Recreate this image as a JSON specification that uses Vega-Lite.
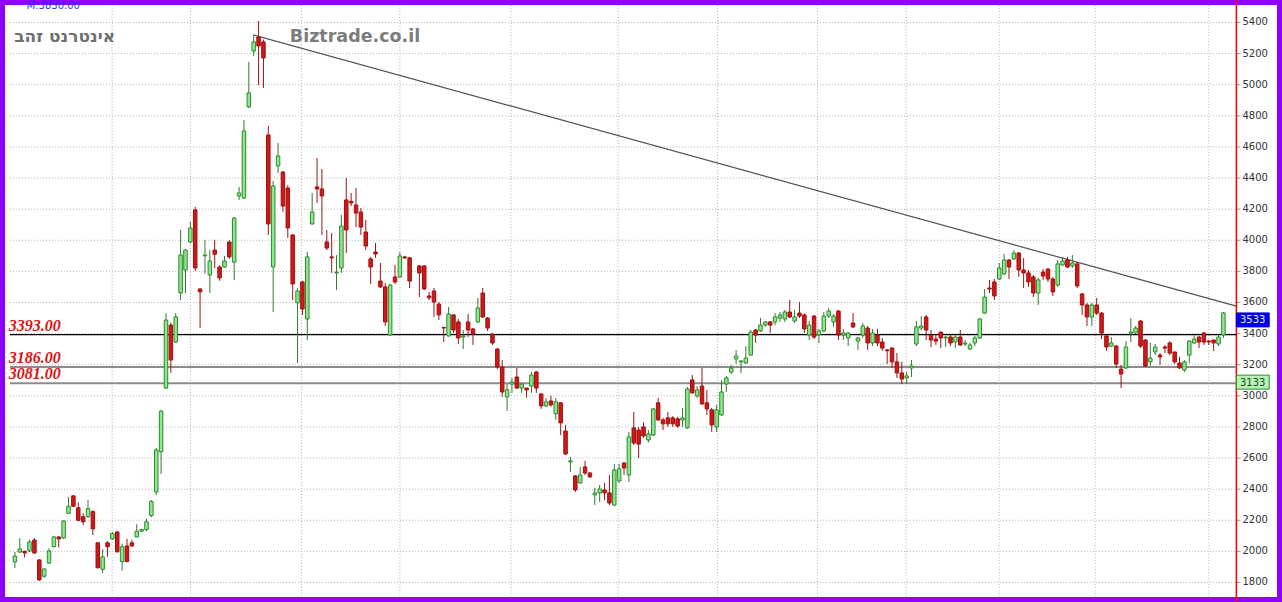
{
  "$schema": "https://vega.github.io/schema/vega-lite/v6.json",
  "width": 1282,
  "height": 602,
  "autosize": {"type": "none"},
  "padding": 0,
  "background": "#8f00ff",
  "config": {
    "view": {"stroke": "#8f00ff", "strokeWidth": 10, "fill": "#ffffff"},
    "font": "DejaVu Sans"
  },
  "datasets": {
    "candles": [
      {"t":0,"o":1932,"h":1996,"l":1893,"c":1970},
      {"t":1,"o":1996,"h":2086,"l":1990,"c":2016},
      {"t":2,"o":2000,"h":2005,"l":1960,"c":1990},
      {"t":3,"o":2003,"h":2075,"l":1995,"c":2061},
      {"t":4,"o":2073,"h":2085,"l":1985,"c":1990},
      {"t":5,"o":1945,"h":1950,"l":1810,"c":1817},
      {"t":6,"o":1840,"h":1890,"l":1830,"c":1887},
      {"t":7,"o":1925,"h":2020,"l":1920,"c":2003},
      {"t":8,"o":2030,"h":2100,"l":2025,"c":2093},
      {"t":9,"o":2093,"h":2095,"l":2025,"c":2080},
      {"t":10,"o":2086,"h":2200,"l":2080,"c":2195},
      {"t":11,"o":2245,"h":2350,"l":2240,"c":2290},
      {"t":12,"o":2357,"h":2360,"l":2285,"c":2290},
      {"t":13,"o":2280,"h":2315,"l":2195,"c":2200},
      {"t":14,"o":2223,"h":2245,"l":2170,"c":2190},
      {"t":15,"o":2223,"h":2330,"l":2215,"c":2275},
      {"t":16,"o":2255,"h":2265,"l":2105,"c":2145},
      {"t":17,"o":2055,"h":2060,"l":1890,"c":1895},
      {"t":18,"o":1885,"h":2015,"l":1860,"c":1965},
      {"t":19,"o":2055,"h":2065,"l":1965,"c":2030},
      {"t":20,"o":2080,"h":2125,"l":2075,"c":2115},
      {"t":21,"o":2125,"h":2130,"l":1995,"c":1997},
      {"t":22,"o":1935,"h":2050,"l":1875,"c":2030},
      {"t":23,"o":2035,"h":2080,"l":1930,"c":1935},
      {"t":24,"o":2055,"h":2075,"l":2030,"c":2035},
      {"t":25,"o":2093,"h":2175,"l":2090,"c":2130},
      {"t":26,"o":2130,"h":2145,"l":2125,"c":2140},
      {"t":27,"o":2140,"h":2210,"l":2130,"c":2190},
      {"t":28,"o":2230,"h":2330,"l":2220,"c":2320},
      {"t":29,"o":2382,"h":2665,"l":2363,"c":2652},
      {"t":30,"o":2640,"h":2910,"l":2497,"c":2902},
      {"t":31,"o":3050,"h":3532,"l":3045,"c":3487},
      {"t":32,"o":3455,"h":3470,"l":3147,"c":3230},
      {"t":33,"o":3346,"h":3532,"l":3340,"c":3507},
      {"t":34,"o":3661,"h":4066,"l":3616,"c":3905},
      {"t":35,"o":3809,"h":3945,"l":3661,"c":3937},
      {"t":36,"o":3989,"h":4118,"l":3980,"c":4079},
      {"t":37,"o":4195,"h":4215,"l":3802,"c":3822},
      {"t":38,"o":3687,"h":3690,"l":3436,"c":3668},
      {"t":39,"o":3900,"h":4003,"l":3784,"c":3905},
      {"t":40,"o":3777,"h":3937,"l":3661,"c":3867},
      {"t":41,"o":3937,"h":4003,"l":3822,"c":3910},
      {"t":42,"o":3828,"h":3840,"l":3740,"c":3758},
      {"t":43,"o":3828,"h":3900,"l":3822,"c":3867},
      {"t":44,"o":3989,"h":4000,"l":3880,"c":3893},
      {"t":45,"o":3860,"h":4150,"l":3745,"c":4143},
      {"t":46,"o":4285,"h":4343,"l":4259,"c":4304},
      {"t":47,"o":4272,"h":4773,"l":4265,"c":4703},
      {"t":48,"o":4857,"h":5146,"l":4850,"c":4947},
      {"t":49,"o":5217,"h":5320,"l":5185,"c":5275},
      {"t":50,"o":5307,"h":5410,"l":4998,"c":5249},
      {"t":51,"o":5275,"h":5290,"l":4979,"c":5172},
      {"t":52,"o":4677,"h":4735,"l":4034,"c":4105},
      {"t":53,"o":3828,"h":4381,"l":3539,"c":4349},
      {"t":54,"o":4478,"h":4625,"l":4433,"c":4542},
      {"t":55,"o":4439,"h":4445,"l":4182,"c":4220},
      {"t":56,"o":4336,"h":4355,"l":4015,"c":4079},
      {"t":57,"o":4034,"h":4040,"l":3616,"c":3719},
      {"t":58,"o":3597,"h":3690,"l":3211,"c":3674},
      {"t":59,"o":3732,"h":3740,"l":3520,"c":3558},
      {"t":60,"o":3494,"h":3925,"l":3359,"c":3893},
      {"t":61,"o":4105,"h":4304,"l":4100,"c":4182},
      {"t":62,"o":4343,"h":4529,"l":4240,"c":4330},
      {"t":63,"o":4330,"h":4458,"l":4034,"c":4285},
      {"t":64,"o":3989,"h":4066,"l":3937,"c":3950},
      {"t":65,"o":3893,"h":4047,"l":3790,"c":3887},
      {"t":66,"o":3790,"h":3905,"l":3680,"c":3795},
      {"t":67,"o":3822,"h":4163,"l":3790,"c":4092},
      {"t":68,"o":4259,"h":4400,"l":3918,"c":4066},
      {"t":69,"o":4250,"h":4304,"l":4220,"c":4240},
      {"t":70,"o":4227,"h":4336,"l":4085,"c":4175},
      {"t":71,"o":4182,"h":4208,"l":4034,"c":4085},
      {"t":72,"o":4053,"h":4130,"l":3937,"c":3963},
      {"t":73,"o":3880,"h":3893,"l":3719,"c":3828},
      {"t":74,"o":3925,"h":3982,"l":3887,"c":3912},
      {"t":75,"o":3738,"h":3854,"l":3693,"c":3700},
      {"t":76,"o":3700,"h":3725,"l":3449,"c":3475},
      {"t":77,"o":3391,"h":3720,"l":3385,"c":3712},
      {"t":78,"o":3764,"h":3841,"l":3719,"c":3732},
      {"t":79,"o":3764,"h":3925,"l":3758,"c":3899},
      {"t":80,"o":3893,"h":3900,"l":3880,"c":3887},
      {"t":81,"o":3887,"h":3893,"l":3693,"c":3738},
      {"t":83,"o":3835,"h":3840,"l":3635,"c":3790},
      {"t":84,"o":3835,"h":3841,"l":3680,"c":3687},
      {"t":85,"o":3642,"h":3668,"l":3616,"c":3630},
      {"t":86,"o":3674,"h":3693,"l":3507,"c":3603},
      {"t":87,"o":3590,"h":3603,"l":3487,"c":3520},
      {"t":88,"o":3440,"h":3443,"l":3346,"c":3436},
      {"t":89,"o":3385,"h":3571,"l":3380,"c":3526},
      {"t":90,"o":3520,"h":3526,"l":3404,"c":3423},
      {"t":91,"o":3475,"h":3494,"l":3333,"c":3372},
      {"t":92,"o":3378,"h":3423,"l":3301,"c":3385},
      {"t":93,"o":3475,"h":3526,"l":3378,"c":3423},
      {"t":94,"o":3430,"h":3436,"l":3327,"c":3397},
      {"t":95,"o":3475,"h":3629,"l":3468,"c":3565},
      {"t":96,"o":3661,"h":3693,"l":3500,"c":3507},
      {"t":97,"o":3500,"h":3507,"l":3417,"c":3436},
      {"t":98,"o":3397,"h":3404,"l":3327,"c":3340},
      {"t":99,"o":3301,"h":3307,"l":3172,"c":3185},
      {"t":100,"o":3185,"h":3230,"l":2993,"c":3025},
      {"t":101,"o":2993,"h":3076,"l":2903,"c":3038},
      {"t":102,"o":3076,"h":3115,"l":3019,"c":3089},
      {"t":103,"o":3121,"h":3179,"l":3044,"c":3050},
      {"t":104,"o":3050,"h":3083,"l":3019,"c":3076},
      {"t":105,"o":3050,"h":3052,"l":2987,"c":3038},
      {"t":106,"o":3063,"h":3153,"l":3019,"c":3134},
      {"t":107,"o":3153,"h":3160,"l":3019,"c":3050},
      {"t":108,"o":3012,"h":3015,"l":2916,"c":2935},
      {"t":109,"o":2935,"h":2985,"l":2930,"c":2961},
      {"t":110,"o":2967,"h":3000,"l":2930,"c":2942},
      {"t":111,"o":2884,"h":2987,"l":2845,"c":2961},
      {"t":112,"o":2955,"h":2961,"l":2748,"c":2826},
      {"t":113,"o":2774,"h":2813,"l":2620,"c":2626},
      {"t":114,"o":2575,"h":2607,"l":2511,"c":2582},
      {"t":115,"o":2485,"h":2491,"l":2382,"c":2395},
      {"t":116,"o":2440,"h":2543,"l":2435,"c":2491},
      {"t":117,"o":2543,"h":2582,"l":2491,"c":2504},
      {"t":118,"o":2504,"h":2511,"l":2472,"c":2479},
      {"t":119,"o":2363,"h":2408,"l":2298,"c":2376},
      {"t":120,"o":2376,"h":2427,"l":2318,"c":2401},
      {"t":121,"o":2395,"h":2440,"l":2330,"c":2376},
      {"t":122,"o":2376,"h":2491,"l":2298,"c":2311},
      {"t":123,"o":2298,"h":2562,"l":2292,"c":2523},
      {"t":124,"o":2453,"h":2562,"l":2440,"c":2530},
      {"t":125,"o":2568,"h":2575,"l":2491,"c":2536},
      {"t":126,"o":2491,"h":2768,"l":2446,"c":2736},
      {"t":127,"o":2794,"h":2897,"l":2684,"c":2697},
      {"t":128,"o":2780,"h":2800,"l":2600,"c":2690},
      {"t":129,"o":2800,"h":2830,"l":2730,"c":2742},
      {"t":130,"o":2716,"h":2780,"l":2700,"c":2755},
      {"t":131,"o":2748,"h":2922,"l":2740,"c":2916},
      {"t":132,"o":2955,"h":2987,"l":2839,"c":2845},
      {"t":133,"o":2845,"h":2858,"l":2780,"c":2820},
      {"t":134,"o":2858,"h":2897,"l":2800,"c":2820},
      {"t":135,"o":2858,"h":2870,"l":2800,"c":2820},
      {"t":136,"o":2852,"h":2865,"l":2794,"c":2806},
      {"t":137,"o":2845,"h":2922,"l":2800,"c":2858},
      {"t":138,"o":2794,"h":3057,"l":2787,"c":3044},
      {"t":139,"o":3102,"h":3134,"l":3012,"c":3019},
      {"t":140,"o":2999,"h":3063,"l":2987,"c":3038},
      {"t":141,"o":3063,"h":3179,"l":2942,"c":2948},
      {"t":142,"o":2955,"h":3038,"l":2877,"c":2916},
      {"t":143,"o":2910,"h":2922,"l":2768,"c":2813},
      {"t":144,"o":2800,"h":2942,"l":2768,"c":2910},
      {"t":145,"o":2877,"h":3102,"l":2871,"c":3025},
      {"t":146,"o":3076,"h":3128,"l":3025,"c":3115},
      {"t":147,"o":3153,"h":3198,"l":3140,"c":3179},
      {"t":148,"o":3237,"h":3294,"l":3205,"c":3256},
      {"t":149,"o":3218,"h":3230,"l":3147,"c":3224},
      {"t":150,"o":3211,"h":3320,"l":3205,"c":3243},
      {"t":151,"o":3262,"h":3423,"l":3256,"c":3410},
      {"t":152,"o":3423,"h":3430,"l":3340,"c":3391},
      {"t":153,"o":3417,"h":3500,"l":3410,"c":3455},
      {"t":154,"o":3455,"h":3481,"l":3443,"c":3475},
      {"t":155,"o":3475,"h":3481,"l":3404,"c":3455},
      {"t":156,"o":3475,"h":3532,"l":3455,"c":3507},
      {"t":157,"o":3500,"h":3539,"l":3475,"c":3520},
      {"t":158,"o":3494,"h":3552,"l":3475,"c":3539},
      {"t":159,"o":3539,"h":3616,"l":3500,"c":3507},
      {"t":160,"o":3481,"h":3552,"l":3468,"c":3507},
      {"t":161,"o":3532,"h":3603,"l":3500,"c":3513},
      {"t":162,"o":3520,"h":3530,"l":3404,"c":3430},
      {"t":163,"o":3391,"h":3481,"l":3359,"c":3455},
      {"t":164,"o":3513,"h":3520,"l":3365,"c":3378},
      {"t":165,"o":3391,"h":3430,"l":3340,"c":3417},
      {"t":166,"o":3417,"h":3539,"l":3410,"c":3513},
      {"t":167,"o":3513,"h":3565,"l":3500,"c":3545},
      {"t":168,"o":3475,"h":3526,"l":3443,"c":3513},
      {"t":169,"o":3545,"h":3552,"l":3359,"c":3391},
      {"t":170,"o":3391,"h":3430,"l":3359,"c":3404},
      {"t":171,"o":3372,"h":3410,"l":3320,"c":3404},
      {"t":172,"o":3468,"h":3532,"l":3436,"c":3443},
      {"t":173,"o":3352,"h":3378,"l":3295,"c":3372},
      {"t":174,"o":3391,"h":3468,"l":3372,"c":3449},
      {"t":175,"o":3436,"h":3449,"l":3295,"c":3340},
      {"t":176,"o":3340,"h":3430,"l":3320,"c":3404},
      {"t":177,"o":3391,"h":3430,"l":3320,"c":3340},
      {"t":178,"o":3346,"h":3372,"l":3288,"c":3307},
      {"t":179,"o":3295,"h":3301,"l":3205,"c":3290},
      {"t":180,"o":3307,"h":3314,"l":3179,"c":3218},
      {"t":181,"o":3218,"h":3275,"l":3115,"c":3147},
      {"t":182,"o":3147,"h":3218,"l":3076,"c":3108},
      {"t":183,"o":3115,"h":3153,"l":3076,"c":3128},
      {"t":184,"o":3179,"h":3230,"l":3121,"c":3192},
      {"t":185,"o":3333,"h":3481,"l":3320,"c":3443},
      {"t":186,"o":3436,"h":3513,"l":3423,"c":3449},
      {"t":187,"o":3507,"h":3520,"l":3359,"c":3423},
      {"t":188,"o":3391,"h":3423,"l":3314,"c":3359},
      {"t":189,"o":3365,"h":3391,"l":3327,"c":3352},
      {"t":190,"o":3410,"h":3410,"l":3307,"c":3372},
      {"t":191,"o":3372,"h":3385,"l":3314,"c":3378},
      {"t":192,"o":3378,"h":3391,"l":3320,"c":3340},
      {"t":193,"o":3346,"h":3391,"l":3307,"c":3378},
      {"t":194,"o":3378,"h":3423,"l":3320,"c":3327},
      {"t":195,"o":3333,"h":3359,"l":3320,"c":3340},
      {"t":196,"o":3301,"h":3340,"l":3295,"c":3327},
      {"t":197,"o":3340,"h":3385,"l":3320,"c":3372},
      {"t":198,"o":3372,"h":3500,"l":3365,"c":3494},
      {"t":199,"o":3532,"h":3687,"l":3526,"c":3635},
      {"t":200,"o":3693,"h":3745,"l":3661,"c":3687},
      {"t":201,"o":3732,"h":3751,"l":3616,"c":3642},
      {"t":202,"o":3751,"h":3854,"l":3745,"c":3822},
      {"t":203,"o":3783,"h":3912,"l":3777,"c":3873},
      {"t":204,"o":3873,"h":3880,"l":3751,"c":3828},
      {"t":205,"o":3880,"h":3937,"l":3873,"c":3918},
      {"t":206,"o":3918,"h":3925,"l":3764,"c":3809},
      {"t":207,"o":3809,"h":3886,"l":3693,"c":3790},
      {"t":208,"o":3790,"h":3809,"l":3700,"c":3732},
      {"t":209,"o":3764,"h":3777,"l":3635,"c":3661},
      {"t":210,"o":3661,"h":3758,"l":3584,"c":3745},
      {"t":211,"o":3796,"h":3815,"l":3745,"c":3770},
      {"t":212,"o":3815,"h":3822,"l":3732,"c":3751},
      {"t":213,"o":3751,"h":3764,"l":3642,"c":3668},
      {"t":214,"o":3712,"h":3873,"l":3700,"c":3848},
      {"t":215,"o":3841,"h":3893,"l":3835,"c":3867},
      {"t":216,"o":3873,"h":3893,"l":3822,"c":3828},
      {"t":217,"o":3835,"h":3905,"l":3822,"c":3854},
      {"t":218,"o":3848,"h":3860,"l":3693,"c":3706},
      {"t":219,"o":3655,"h":3661,"l":3520,"c":3584},
      {"t":220,"o":3584,"h":3597,"l":3449,"c":3507},
      {"t":221,"o":3507,"h":3597,"l":3449,"c":3584},
      {"t":222,"o":3584,"h":3629,"l":3520,"c":3532},
      {"t":223,"o":3532,"h":3539,"l":3365,"c":3404},
      {"t":224,"o":3385,"h":3391,"l":3288,"c":3314},
      {"t":225,"o":3320,"h":3378,"l":3314,"c":3340},
      {"t":226,"o":3320,"h":3327,"l":3179,"c":3205},
      {"t":227,"o":3172,"h":3198,"l":3050,"c":3140},
      {"t":228,"o":3179,"h":3352,"l":3172,"c":3314},
      {"t":229,"o":3404,"h":3500,"l":3346,"c":3410},
      {"t":230,"o":3404,"h":3449,"l":3398,"c":3436},
      {"t":231,"o":3481,"h":3487,"l":3307,"c":3320},
      {"t":232,"o":3359,"h":3365,"l":3185,"c":3192},
      {"t":233,"o":3218,"h":3340,"l":3192,"c":3243},
      {"t":234,"o":3282,"h":3333,"l":3262,"c":3314},
      {"t":235,"o":3262,"h":3275,"l":3198,"c":3250},
      {"t":236,"o":3314,"h":3327,"l":3275,"c":3307},
      {"t":237,"o":3340,"h":3352,"l":3262,"c":3275},
      {"t":238,"o":3282,"h":3282,"l":3205,"c":3218},
      {"t":239,"o":3211,"h":3250,"l":3175,"c":3179},
      {"t":240,"o":3166,"h":3230,"l":3153,"c":3218},
      {"t":241,"o":3262,"h":3359,"l":3211,"c":3352},
      {"t":242,"o":3340,"h":3391,"l":3333,"c":3365},
      {"t":243,"o":3378,"h":3385,"l":3307,"c":3346},
      {"t":244,"o":3404,"h":3410,"l":3327,"c":3346},
      {"t":245,"o":3352,"h":3359,"l":3327,"c":3346},
      {"t":246,"o":3359,"h":3359,"l":3288,"c":3340},
      {"t":247,"o":3333,"h":3391,"l":3320,"c":3378},
      {"t":248,"o":3391,"h":3539,"l":3372,"c":3533}
    ],
    "hgrid": [
      {"p":1800},{"p":2000},{"p":2200},{"p":2400},{"p":2600},{"p":2800},{"p":3000},{"p":3200},{"p":3400},{"p":3600},
      {"p":3800},{"p":4000},{"p":4200},{"p":4400},{"p":4600},{"p":4800},{"p":5000},{"p":5200},{"p":5400}
    ],
    "vgrid": [
      {"t":19.95},{"t":36.0},{"t":58.8},{"t":79.0},{"t":101.8},{"t":123.8},{"t":144.2},{"t":164.7},{"t":182.9},{"t":202.0},{"t":221.7},{"t":245.0}
    ],
    "levels": [
      {"p":3393,"label":"3393.00"},
      {"p":3186,"label":"3186.00"},
      {"p":3081,"label":"3081.00"}
    ],
    "trend": [
      {"t":48.9,"p":5320},
      {"t":250.66,"p":3577}
    ],
    "tags": [
      {"p":3533,"label":"3533","kind":"last"},
      {"p":3133,"label":"3133","kind":"prev"}
    ]
  },
  "layer": [
    {
      "data": {"name": "hgrid"},
      "mark": {"type": "rule", "color": "#b4b4b4", "strokeWidth": 1, "strokeDash": [1, 2]},
      "encoding": {
        "y": {"field": "p", "type": "quantitative", "scale": {"domain": [1674.6, 5544.6], "nice": false, "zero": false}, "axis": null},
        "x": {"datum": -1.02, "type": "quantitative", "scale": {"domain": [-2.036, 259.0], "nice": false, "zero": false}, "axis": null},
        "x2": {"datum": 250.66}
      }
    },
    {
      "data": {"name": "vgrid"},
      "mark": {"type": "rule", "color": "#b4b4b4", "strokeWidth": 1, "strokeDash": [1, 2]},
      "encoding": {
        "x": {"field": "t", "type": "quantitative", "axis": null},
        "y": {"datum": 5512, "type": "quantitative", "axis": null},
        "y2": {"datum": 1708}
      }
    },
    {
      "data": {"name": "hgrid"},
      "mark": {"type": "rule", "color": "#999999", "strokeWidth": 1},
      "encoding": {
        "y": {"field": "p", "type": "quantitative", "axis": null},
        "x": {"datum": 250.66, "type": "quantitative", "axis": null},
        "x2": {"datum": 251.5}
      }
    },
    {
      "data": {"name": "hgrid"},
      "mark": {"type": "text", "align": "left", "baseline": "middle", "font": "DejaVu Sans", "fontSize": 10, "color": "#333333"},
      "encoding": {
        "y": {"field": "p", "type": "quantitative", "axis": null},
        "x": {"datum": 251.9, "type": "quantitative", "axis": null},
        "text": {"field": "p", "type": "quantitative", "format": "d"}
      }
    },
    {
      "data": {"values": [{"edge": "axis"}]},
      "mark": {"type": "rule", "color": "#ff0000", "strokeWidth": 1.5},
      "encoding": {
        "x": {"datum": 250.66, "type": "quantitative", "axis": null},
        "y": {"datum": 5544.6, "type": "quantitative", "axis": null},
        "y2": {"datum": 1674.6}
      }
    },
    {
      "data": {"name": "levels"},
      "mark": {"type": "rule"},
      "encoding": {
        "y": {"field": "p", "type": "quantitative", "axis": null},
        "x": {"datum": -1.02, "type": "quantitative", "axis": null},
        "x2": {"datum": 250.66},
        "color": {"condition": {"test": "datum.p > 3300", "value": "#000000"}, "value": "#8c8c8c"},
        "strokeWidth": {"condition": {"test": "datum.p > 3300", "value": 1.2}, "value": 2}
      }
    },
    {
      "data": {"name": "levels"},
      "mark": {"type": "text", "align": "left", "baseline": "alphabetic", "dy": -4, "font": "Liberation Serif", "fontSize": 16, "fontWeight": "bold", "fontStyle": "italic", "color": "#e01010"},
      "encoding": {
        "y": {"field": "p", "type": "quantitative", "axis": null},
        "x": {"datum": -1.25, "type": "quantitative", "axis": null},
        "text": {"field": "label"}
      }
    },
    {
      "data": {"name": "trend"},
      "mark": {"type": "line", "color": "#505050", "strokeWidth": 1.2},
      "encoding": {
        "x": {"field": "t", "type": "quantitative", "axis": null},
        "y": {"field": "p", "type": "quantitative", "axis": null}
      }
    },
    {
      "data": {"name": "candles"},
      "mark": {"type": "rule", "strokeWidth": 1},
      "encoding": {
        "x": {"field": "t", "type": "quantitative", "axis": null},
        "y": {"field": "l", "type": "quantitative", "axis": null},
        "y2": {"field": "h"},
        "color": {"condition": {"test": "datum.c >= datum.o", "value": "#2e7d2e"}, "value": "#9a1515"}
      }
    },
    {
      "data": {"name": "candles"},
      "mark": {"type": "bar", "size": 3.5, "strokeWidth": 1},
      "encoding": {
        "x": {"field": "t", "type": "quantitative", "axis": null},
        "y": {"field": "o", "type": "quantitative", "axis": null},
        "y2": {"field": "c"},
        "fill": {"condition": {"test": "datum.c >= datum.o", "value": "#8fe68f"}, "value": "#d01818"},
        "stroke": {"condition": {"test": "datum.c >= datum.o", "value": "#2e8b2e"}, "value": "#a01010"}
      }
    },
    {
      "data": {"name": "tags"},
      "mark": {"type": "rect", "y2Offset": 14, "strokeWidth": 1},
      "encoding": {
        "x": {"datum": 250.66, "type": "quantitative", "axis": null},
        "x2": {"datum": 257.4},
        "y": {"field": "p", "type": "quantitative", "axis": null},
        "y2": {"field": "p"},
        "fill": {"condition": {"test": "datum.kind == 'last'", "value": "#0000e6"}, "value": "#b6f2b6"},
        "stroke": {"condition": {"test": "datum.kind == 'last'", "value": "#0000e6"}, "value": "#2e8b2e"}
      }
    },
    {
      "data": {"name": "tags"},
      "mark": {"type": "text", "align": "left", "baseline": "middle", "yOffset": 7.5, "font": "DejaVu Sans", "fontSize": 10},
      "encoding": {
        "x": {"datum": 251.4, "type": "quantitative", "axis": null},
        "y": {"field": "p", "type": "quantitative", "axis": null},
        "text": {"field": "label"},
        "color": {"condition": {"test": "datum.kind == 'last'", "value": "#e0e8ff"}, "value": "#1a4a1a"}
      }
    },
    {
      "data": {"values": [{"label": "אינטרנט זהב"}]},
      "mark": {"type": "text", "align": "center", "baseline": "middle", "font": "DejaVu Sans", "fontSize": 17, "fontWeight": "bold", "color": "#707070"},
      "encoding": {
        "x": {"datum": 10.2, "type": "quantitative", "axis": null},
        "y": {"datum": 5307, "type": "quantitative", "axis": null},
        "text": {"field": "label"}
      }
    },
    {
      "data": {"values": [{"label": "Biztrade.co.il"}]},
      "mark": {"type": "text", "align": "center", "baseline": "middle", "font": "DejaVu Sans", "fontSize": 17.5, "fontWeight": "bold", "color": "#7c7c7c"},
      "encoding": {
        "x": {"datum": 69.8, "type": "quantitative", "axis": null},
        "y": {"datum": 5307, "type": "quantitative", "axis": null},
        "text": {"field": "label"}
      }
    },
    {
      "data": {"values": [{"label": "M:3830.00"}]},
      "mark": {"type": "text", "align": "left", "baseline": "alphabetic", "font": "DejaVu Sans", "fontSize": 10, "color": "#3030ff"},
      "encoding": {
        "x": {"datum": 2.4, "type": "quantitative", "axis": null},
        "y": {"datum": 5488, "type": "quantitative", "axis": null},
        "text": {"field": "label"}
      }
    }
  ]
}
